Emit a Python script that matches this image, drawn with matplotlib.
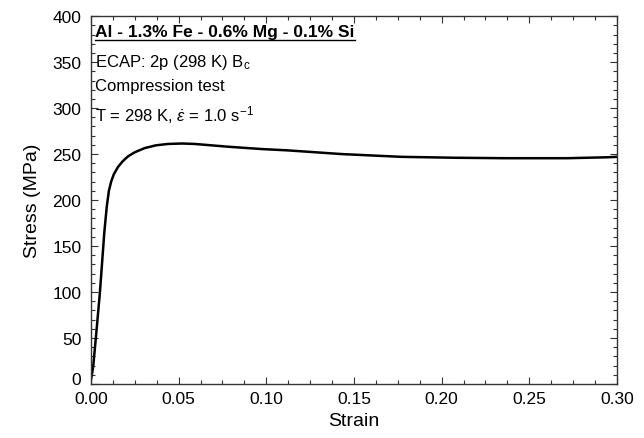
import matplotlib
matplotlib.use("Agg")
import matplotlib.pyplot as plt
import matplotlib.transforms as mtransforms
from matplotlib.ticker import MultipleLocator

plt.rcParams['font.family'] = ['Liberation Sans', 'DejaVu Sans']
plt.rcParams['mathtext.fontset'] = 'custom'
plt.rcParams['mathtext.rm'] = 'Liberation Sans'
plt.rcParams['mathtext.it'] = 'Liberation Sans:italic'

# curve
strain = [0.0, 0.0005, 0.0013, 0.0030, 0.0051, 0.0076, 0.0090, 0.0102, 0.0115,
          0.0130, 0.0154, 0.0180, 0.0211, 0.0250, 0.0306, 0.0370, 0.0439, 0.0520,
          0.0592, 0.0782, 0.0971, 0.1124, 0.143, 0.177, 0.2076, 0.237, 0.2714,
          0.294, 0.300]
stress = [5, 10, 20, 55, 100, 165, 193, 210, 220,
          228, 236, 242, 247.5, 252, 256.5, 259.5, 261, 261.5,
          261, 258, 255.5, 254, 250, 247, 246, 245.5, 245.5,
          246.5, 247]

info_lines = ["ECAP: 2p (298 K) B$_\\mathrm{c}$",
              "Compression test",
              "T = 298 K, $\\dot{\\varepsilon}$ = 1.0 s$^{\\mathrm{-1}}$"]
alloy = "Al - 1.3% Fe - 0.6% Mg - 0.1% Si"

fig = plt.figure(figsize=(6.44, 4.39), dpi=100)
ax = fig.add_axes([0.1413, 0.123, 0.8167, 0.838])

ax.plot(strain, stress, color='black', lw=1.8)

ax.set_xlim(0, 0.30)
ax.set_ylim(0, 400)
ax.xaxis.set_major_locator(MultipleLocator(0.05))
ax.xaxis.set_minor_locator(MultipleLocator(0.0125))
ax.yaxis.set_major_locator(MultipleLocator(50))
ax.yaxis.set_minor_locator(MultipleLocator(10))
ax.xaxis.set_major_formatter(plt.FormatStrFormatter('%.2f'))
ax.tick_params(which='both', direction='in', top=True, right=True,
               labelsize=12.5, color='#333333')
ax.tick_params(which='major', length=5, width=0.8)
ax.tick_params(which='minor', length=3, width=0.8)
ax.tick_params(axis='x', pad=5)
ax.tick_params(axis='y', pad=7)
for s in ax.spines.values():
    s.set_color('#333333')
    s.set_linewidth(1.0)

ax.set_xlabel("Strain", fontsize=14, labelpad=4)
ax.set_ylabel("Stress (MPa)", fontsize=14, labelpad=8)

t = ax.text(0.008, 0.978, alloy, transform=ax.transAxes, fontsize=12.5,
            fontweight='bold', va='top', ha='left')
for i, line in enumerate(info_lines):
    ax.text(0.008, 0.903 - i * 0.07, line, transform=ax.transAxes,
            fontsize=12, va='top', ha='left')

# nudge the "0" on the y axis up a little so it clears "0.00"
fig.canvas.draw()
for tick in ax.yaxis.get_major_ticks():
    if abs(tick.get_loc()) < 1e-9:
        tick.label1.set_transform(tick.label1.get_transform() +
                                  mtransforms.ScaledTranslation(0, 4 / 72, fig.dpi_scale_trans))

# underline the alloy name
bb = t.get_window_extent().transformed(ax.transAxes.inverted())
ax.plot([bb.x0, bb.x1], [bb.y0 - 0.002, bb.y0 - 0.002], transform=ax.transAxes,
        color='black', lw=1.0, clip_on=False)

fig.savefig("out.png", dpi=100)
